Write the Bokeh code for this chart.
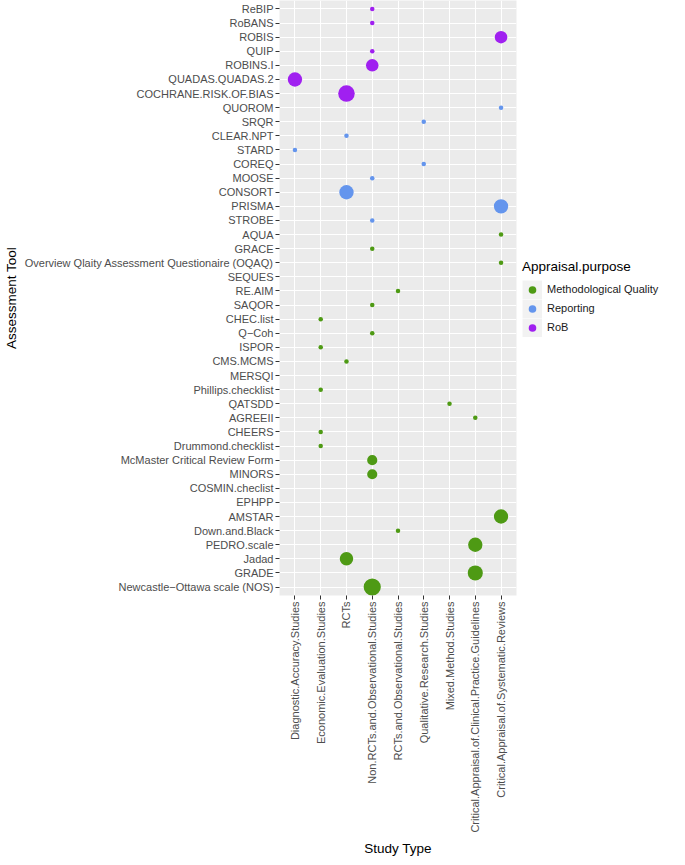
import math
from bokeh.plotting import figure
from bokeh.models import FactorRange, ColumnDataSource, Legend, LegendItem
from bokeh.embed import file_html
from bokeh.resources import INLINE

# ---------------- data ----------------
study_types = [
    "Diagnostic.Accuracy.Studies",
    "Economic.Evaluation.Studies",
    "RCTs",
    "Non.RCTs.and.Observational.Studies",
    "RCTs.and.Observational.Studies",
    "Qualitative.Research.Studies",
    "Mixed.Method.Studies",
    "Critical.Appraisal.of.Clinical.Practice.Guidelines",
    "Critical.Appraisal.of.Systematic.Reviews",
]

# tools listed from top of the chart to bottom
tools = [
    "ReBIP", "RoBANS", "ROBIS", "QUIP", "ROBINS.I", "QUADAS.QUADAS.2",
    "COCHRANE.RISK.OF.BIAS", "QUOROM", "SRQR", "CLEAR.NPT", "STARD", "COREQ",
    "MOOSE", "CONSORT", "PRISMA", "STROBE", "AQUA", "GRACE",
    "Overview Qlaity Assessment Questionaire (OQAQ)", "SEQUES", "RE.AIM",
    "SAQOR", "CHEC.list", "Q\u2212Coh", "ISPOR", "CMS.MCMS", "MERSQI",
    "Phillips.checklist", "QATSDD", "AGREEII", "CHEERS", "Drummond.checklist",
    "McMaster Critical Review Form", "MINORS", "COSMIN.checlist", "EPHPP",
    "AMSTAR", "Down.and.Black", "PEDRO.scale", "Jadad", "GRADE",
    "Newcastle\u2212Ottawa scale (NOS)",
]

tool_purpose = [
    "RoB", "RoB", "RoB", "RoB", "RoB", "RoB",
    "RoB", "Reporting", "Reporting", "Reporting", "Reporting", "Reporting",
    "Reporting", "Reporting", "Reporting", "Reporting",
    "Methodological Quality", "Methodological Quality",
    "Methodological Quality", None, "Methodological Quality",
    "Methodological Quality", "Methodological Quality", "Methodological Quality",
    "Methodological Quality", "Methodological Quality", None,
    "Methodological Quality", "Methodological Quality", "Methodological Quality",
    "Methodological Quality", "Methodological Quality",
    "Methodological Quality", "Methodological Quality", None, None,
    "Methodological Quality", "Methodological Quality", "Methodological Quality",
    "Methodological Quality", "Methodological Quality",
    "Methodological Quality",
]

tool_study = [
    "Non.RCTs.and.Observational.Studies", "Non.RCTs.and.Observational.Studies",
    "Critical.Appraisal.of.Systematic.Reviews", "Non.RCTs.and.Observational.Studies",
    "Non.RCTs.and.Observational.Studies", "Diagnostic.Accuracy.Studies",
    "RCTs", "Critical.Appraisal.of.Systematic.Reviews",
    "Qualitative.Research.Studies", "RCTs", "Diagnostic.Accuracy.Studies",
    "Qualitative.Research.Studies", "Non.RCTs.and.Observational.Studies", "RCTs",
    "Critical.Appraisal.of.Systematic.Reviews", "Non.RCTs.and.Observational.Studies",
    "Critical.Appraisal.of.Systematic.Reviews", "Non.RCTs.and.Observational.Studies",
    "Critical.Appraisal.of.Systematic.Reviews", None,
    "RCTs.and.Observational.Studies", "Non.RCTs.and.Observational.Studies",
    "Economic.Evaluation.Studies", "Non.RCTs.and.Observational.Studies",
    "Economic.Evaluation.Studies", "RCTs", None, "Economic.Evaluation.Studies",
    "Mixed.Method.Studies", "Critical.Appraisal.of.Clinical.Practice.Guidelines",
    "Economic.Evaluation.Studies", "Economic.Evaluation.Studies",
    "Non.RCTs.and.Observational.Studies", "Non.RCTs.and.Observational.Studies",
    None, None, "Critical.Appraisal.of.Systematic.Reviews",
    "RCTs.and.Observational.Studies",
    "Critical.Appraisal.of.Clinical.Practice.Guidelines", "RCTs",
    "Critical.Appraisal.of.Clinical.Practice.Guidelines",
    "Non.RCTs.and.Observational.Studies",
]

tool_count = [
    1, 1, 5, 1, 5, 7,
    10, 1, 1, 1, 1, 1,
    1, 7, 7, 1, 1, 1,
    1, None, 1,
    1, 1, 1, 1, 1, None,
    1, 1, 1, 1, 1,
    3, 3, None, None,
    7, 1, 7, 6, 8,
    11,
]

purposes = ["Methodological Quality", "Reporting", "RoB"]
purpose_colors = ["#4E9A14", "#6495ED", "#A020F0"]

# ---------------- styling constants ----------------
D_MIN, D_MAX = 4.5, 17.2
FONT = "Liberation Sans"

counts = [c for c in tool_count if c is not None]
cmin, cmax = min(counts), max(counts)


def diameter(c):
    return D_MIN + (D_MAX - D_MIN) * math.sqrt((c - cmin) / (cmax - cmin))


x_range = FactorRange(factors=study_types, range_padding=0.1,
                      range_padding_units="absolute")
y_range = FactorRange(factors=tools[::-1], range_padding=0.1,
                      range_padding_units="absolute")

p = figure(frame_width=237, frame_height=595, x_range=x_range, y_range=y_range,
           output_backend="svg", toolbar_location=None,
           min_border_left=0, min_border_right=0, min_border_top=0,
           min_border_bottom=0)

p.background_fill_color = "#EBEBEB"
p.border_fill_color = "white"
p.outline_line_color = None
p.grid.grid_line_color = "white"
p.grid.grid_line_width = 1.1

for ax in (p.xaxis, p.yaxis):
    ax.axis_line_color = None
    ax.major_tick_line_color = "#333333"
    ax.major_tick_out = 4
    ax.major_tick_in = 0
    ax.major_label_standoff = 2
    ax.major_label_text_font = FONT
    ax.major_label_text_font_size = "11px"
    ax.major_label_text_color = "#4D4D4D"
    ax.axis_label_text_font = FONT
    ax.axis_label_text_font_size = "13.5px"
    ax.axis_label_text_font_style = "normal"
    ax.axis_label_text_color = "black"

p.xaxis.axis_label = "Study Type"
p.yaxis.axis_label = "Assessment Tool"
p.xaxis.major_label_orientation = math.pi / 2
p.xaxis.axis_label_standoff = 5
p.yaxis.axis_label_standoff = 3

# legend key background (drawn off-frame; used only for legend keys)
key_bg = p.line(x=[-1000, -999], y=[-1000, -1000], line_color="#F2F2F2",
                line_width=19)

items = []
for purpose, color in zip(purposes, purpose_colors):
    idx = [i for i, pp in enumerate(tool_purpose) if pp == purpose]
    src = ColumnDataSource(dict(
        x=[tool_study[i] for i in idx],
        y=[tools[i] for i in idx],
        d=[diameter(tool_count[i]) for i in idx],
    ))
    r = p.scatter(x="x", y="y", size="d", source=src, fill_color=color,
                  line_color=None)
    items.append(LegendItem(label=purpose, renderers=[key_bg, r]))

legend = Legend(items=items, location="center_left", title="Appraisal.purpose",
                margin=6, padding=6, spacing=0, glyph_width=20,
                glyph_height=19, label_height=19, label_standoff=5,
                border_line_color=None, background_fill_color="white",
                label_text_font=FONT, label_text_font_size="11px",
                label_text_color="#1A1A1A", title_text_font=FONT,
                title_text_font_size="13.5px", title_text_font_style="normal",
                title_text_color="black", title_standoff=6)
p.add_layout(legend, "right")

open("out.html", "w").write(file_html(p, INLINE))
